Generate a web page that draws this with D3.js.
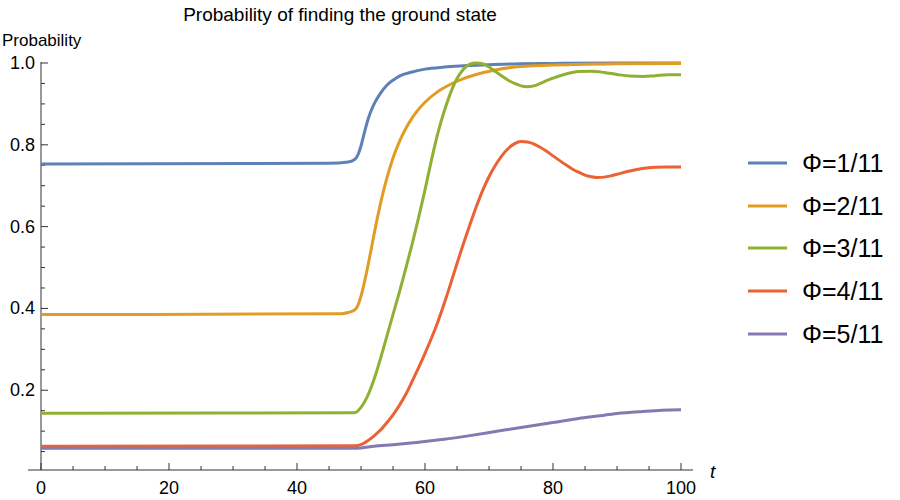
<!DOCTYPE html>
<html>
<head>
<meta charset="utf-8">
<script src="https://cdn.jsdelivr.net/npm/d3@7"></script>
<style>
  body { margin: 0; background: #fff; }
  svg { font-family: "Liberation Sans", Arial, sans-serif; }
</style>
</head>
<body>
<svg id="chart" width="900" height="500"></svg>
<script>
const title = "Probability of finding the ground state";
const yLabel = "Probability";
const xLabel = "t";
const seriesNames = ["Φ=1/11", "Φ=2/11", "Φ=3/11", "Φ=4/11", "Φ=5/11"];
const colors = ["#5E81B5", "#E19C24", "#8FB032", "#EB6235", "#8778B3"];
const xTicks = [0, 20, 40, 60, 80, 100];
const yTicks = [0.2, 0.4, 0.6, 0.8, 1.0];

const phi1 = [[0,0.753],[45,0.755],[48,0.758],[49,0.764],[49.5,0.775],[50,0.797],[50.5,0.828],[51,0.857],[51.5,0.88],[52,0.898],[53,0.925],[54,0.945],[55,0.958],[56,0.968],[58,0.978],[60,0.985],[63,0.99],[66,0.993],[70,0.996],[75,0.998],[80,0.999],[90,1.0],[100,1.0]];
const phi2 = [[0,0.385],[47,0.387],[48,0.39],[49,0.396],[49.5,0.407],[50,0.43],[50.5,0.462],[51,0.498],[51.5,0.537],[52,0.578],[52.5,0.617],[53,0.653],[53.5,0.686],[54,0.716],[55,0.768],[56,0.808],[57,0.84],[58,0.866],[59,0.887],[60,0.904],[62,0.93],[64,0.948],[66,0.962],[68,0.972],[71,0.983],[74,0.99],[77,0.993],[80,0.995],[85,0.997],[90,0.998],[100,0.999]];
const phi3 = [[0,0.144],[49,0.145],[50,0.158],[51,0.185],[52,0.225],[53,0.275],[54,0.33],[55,0.385],[56,0.44],[57,0.498],[58,0.558],[59,0.622],[60,0.69],[61,0.762],[62,0.828],[63,0.882],[64,0.927],[65,0.962],[66,0.985],[67,0.997],[68,1.0],[69,0.998],[70,0.99],[71,0.979],[72,0.968],[73,0.958],[74,0.95],[75,0.944],[76,0.942],[77,0.944],[78,0.95],[79,0.957],[80,0.963],[82,0.973],[84,0.979],[86,0.98],[88,0.977],[90,0.972],[92,0.968],[94,0.967],[96,0.969],[98,0.971],[100,0.971]];
const phi4 = [[0,0.063],[49,0.064],[50,0.067],[51,0.076],[52,0.088],[53,0.102],[54,0.12],[55,0.14],[56,0.163],[57,0.19],[58,0.222],[59,0.255],[60,0.29],[61,0.327],[62,0.367],[63,0.412],[64,0.46],[65,0.51],[66,0.558],[67,0.604],[68,0.648],[69,0.688],[70,0.722],[71,0.75],[72,0.773],[73,0.791],[74,0.803],[75,0.808],[76,0.807],[77,0.802],[78,0.794],[79,0.784],[80,0.773],[81,0.762],[82,0.751],[83,0.741],[84,0.733],[85,0.726],[86,0.722],[87,0.72],[88,0.721],[89,0.724],[90,0.728],[92,0.736],[94,0.742],[96,0.745],[98,0.746],[100,0.746]];
const phi5 = [[0,0.058],[49,0.058],[50,0.059],[52,0.063],[55,0.067],[59,0.073],[63,0.08],[67,0.089],[71,0.099],[75,0.109],[80,0.121],[84,0.131],[87,0.137],[90,0.143],[94,0.148],[97,0.151],[100,0.152]];
const allSeries = [phi1, phi2, phi3, phi4, phi5];

const svg = d3.select("#chart");
const x = d3.scaleLinear().domain([0, 100]).range([41, 681]);
const y = d3.scaleLinear().domain([0.005, 1.0]).range([470, 63]);
const axisColor = "#333";

// Title
svg.append("text").attr("x", 340).attr("y", 21).attr("text-anchor", "middle")
  .attr("font-size", 19).attr("fill", "#000").text(title);

// Y axis label
svg.append("text").attr("x", 2).attr("y", 46).attr("font-size", 17).attr("fill", "#000").text(yLabel);

// Axis lines
svg.append("line").attr("x1", 28).attr("x2", 693).attr("y1", y.range()[0]).attr("y2", y.range()[0])
  .attr("stroke", axisColor).attr("stroke-width", 1);
svg.append("line").attr("x1", x(0)).attr("x2", x(0)).attr("y1", y.range()[0]).attr("y2", 62)
  .attr("stroke", axisColor).attr("stroke-width", 1);

// X ticks
const xMinor = d3.range(0, 101, 5);
svg.append("g").selectAll("line").data(xMinor).join("line")
  .attr("x1", d => x(d)).attr("x2", d => x(d))
  .attr("y1", y.range()[0]).attr("y2", d => y.range()[0] - (d % 20 === 0 ? 7 : 4))
  .attr("stroke", axisColor).attr("stroke-width", 1);
svg.append("g").selectAll("text").data(xTicks).join("text")
  .attr("x", d => x(d)).attr("y", 494).attr("text-anchor", "middle")
  .attr("font-size", 18).attr("fill", "#000").text(d => d);

// Y ticks
const yMinor = d3.range(1, 21).map(i => i * 0.05);
svg.append("g").selectAll("line").data(yMinor).join("line")
  .attr("x1", x(0)).attr("x2", (d, i) => x(0) + ((i + 1) % 4 === 0 ? 7 : 4))
  .attr("y1", d => y(d)).attr("y2", d => y(d))
  .attr("stroke", axisColor).attr("stroke-width", 1);
svg.append("g").selectAll("text").data(yTicks).join("text")
  .attr("x", 35).attr("y", d => y(d) + 6).attr("text-anchor", "end")
  .attr("font-size", 18).attr("fill", "#000").text(d => d.toFixed(1));

// X axis label
svg.append("text").attr("x", 710).attr("y", 478).attr("font-size", 19)
  .attr("font-style", "italic").attr("fill", "#000").text(xLabel);

// Lines
const line = d3.line().x(d => x(d[0])).y(d => y(d[1])).curve(d3.curveMonotoneX);
svg.append("g").selectAll("path").data(allSeries).join("path")
  .attr("d", line).attr("fill", "none")
  .attr("stroke", (d, i) => colors[i]).attr("stroke-width", 3)
  .attr("stroke-linejoin", "round").attr("stroke-linecap", "butt");

// Legend
const legendY = [163, 206, 248, 291, 334];
const lg = svg.append("g").selectAll("g").data(seriesNames).join("g")
  .attr("transform", (d, i) => `translate(0,${legendY[i]})`);
lg.append("line").attr("x1", 748).attr("x2", 787).attr("y1", 0).attr("y2", 0)
  .attr("stroke", (d, i) => colors[i]).attr("stroke-width", 3);
lg.append("text").attr("x", 802).attr("y", 9).attr("font-size", 25).attr("fill", "#000").text(d => d);
</script>
</body>
</html>
